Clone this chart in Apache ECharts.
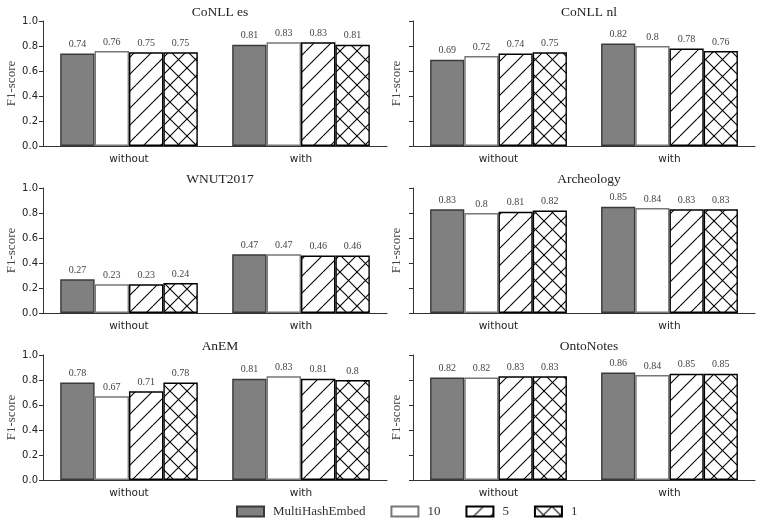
<!DOCTYPE html>
<html>
<head>
<meta charset="utf-8">
<script src="https://cdn.jsdelivr.net/npm/echarts@6/dist/echarts.min.js"></script>
<style>html,body{margin:0;padding:0;background:#fff}#c{width:761px;height:520px}</style>
</head>
<body>
<div id="c"></div>
<script>
const categories = ['without', 'with'];
const seriesNames = ['MultiHashEmbed', '10', '5', '1'];
const panelTitles = ['CoNLL es', 'CoNLL nl', 'WNUT2017', 'Archeology', 'AnEM', 'OntoNotes'];
const yTicks = [0.0, 0.2, 0.4, 0.6, 0.8, 1.0];
// rows: MultiHashEmbed, 10, 5, 1 ; columns: without, with
const conllEs    = [[0.74, 0.81], [0.76, 0.83], [0.75, 0.83], [0.75, 0.81]];
const conllNl    = [[0.69, 0.82], [0.72, 0.80], [0.74, 0.78], [0.75, 0.76]];
const wnut2017   = [[0.27, 0.47], [0.23, 0.47], [0.23, 0.46], [0.24, 0.46]];
const archeology = [[0.83, 0.85], [0.80, 0.84], [0.81, 0.83], [0.82, 0.83]];
const anem       = [[0.78, 0.81], [0.67, 0.83], [0.71, 0.81], [0.78, 0.80]];
const ontoNotes  = [[0.82, 0.86], [0.82, 0.84], [0.83, 0.85], [0.83, 0.85]];
const panels = [conllEs, conllNl, wnut2017, archeology, anem, ontoNotes];

function hatch(cross) {
  const s = 17, c = document.createElement('canvas');
  c.width = s; c.height = s;
  const g = c.getContext('2d');
  g.fillStyle = '#fff'; g.fillRect(0, 0, s, s);
  g.strokeStyle = '#000'; g.lineWidth = 1.1;
  for (let k = -1; k <= 1; k++) {
    g.beginPath(); g.moveTo(k * s, s); g.lineTo(k * s + s, 0); g.stroke();
    if (cross) { g.beginPath(); g.moveTo(k * s, 0); g.lineTo(k * s + s, s); g.stroke(); }
  }
  return c;
}
const styles = [
  { color: '#808080', borderColor: '#3a3a3a' },
  { color: '#ffffff', borderColor: '#777777' },
  { color: { image: hatch(false), repeat: 'repeat' }, borderColor: '#000' },
  { color: { image: hatch(true), repeat: 'repeat' }, borderColor: '#000' }
];

const gridLefts = [43, 413], gridWidths = [344, 342], gridTops = [21, 188, 355], gridH = 125;
const serif = 'Liberation Serif', sans = 'DejaVu Sans';
const grid = [], xAxis = [], yAxis = [], series = [], title = [];
panels.forEach((vals, i) => {
  const col = i % 2, row = Math.floor(i / 2);
  grid.push({ left: gridLefts[col], width: gridWidths[col], top: gridTops[row], height: gridH });
  title.push({ text: panelTitles[i], left: gridLefts[col] + gridWidths[col] / 2, top: gridTops[row] - 21,
    textAlign: 'center', textStyle: { fontFamily: serif, fontSize: 13.5, fontWeight: 'normal', color: '#222' } });
  xAxis.push({ type: 'category', gridIndex: i, data: categories,
    axisLine: { lineStyle: { color: '#333', width: 1 } }, axisTick: { show: false },
    axisLabel: { fontFamily: sans, fontSize: 10.5, color: '#222', margin: 8 } });
  yAxis.push({ type: 'value', gridIndex: i, min: yTicks[0], max: yTicks[yTicks.length - 1], interval: 0.2,
    name: 'F1-score', nameLocation: 'middle', nameGap: col === 0 ? 25 : 10,
    nameTextStyle: { fontFamily: serif, fontSize: 13, color: '#444' },
    axisLine: { show: true, lineStyle: { color: '#333', width: 1 } },
    axisTick: { show: true, length: 4, lineStyle: { color: '#333' } },
    splitLine: { show: false },
    axisLabel: { show: col === 0, fontFamily: sans, fontSize: 10, color: '#222', margin: 5,
      formatter: v => v.toFixed(1) } });
  seriesNames.forEach((name, s) => {
    series.push({ type: 'bar', name: name, xAxisIndex: i, yAxisIndex: i,
      data: vals[s], barGap: '0%', barCategoryGap: '20%',
      itemStyle: { color: styles[s].color, borderColor: styles[s].borderColor, borderWidth: 1.4 },
      label: { show: true, position: 'top', distance: 4, fontFamily: serif, fontSize: 10, color: '#444',
        formatter: p => String(p.value) },
      emphasis: { disabled: true }, animation: false });
  });
});

const chart = echarts.init(document.getElementById('c'), null, { renderer: 'canvas' });
chart.setOption({
  animation: false,
  title: title,
  grid: grid, xAxis: xAxis, yAxis: yAxis, series: series,
  legend: { data: seriesNames, top: 500, left: 231, icon: 'rect', itemWidth: 27, itemHeight: 10,
    itemGap: 25, selectedMode: false,
    textStyle: { fontFamily: serif, fontSize: 13, color: '#333', padding: [0, 0, 0, 4] } }
});
</script>
</body>
</html>
